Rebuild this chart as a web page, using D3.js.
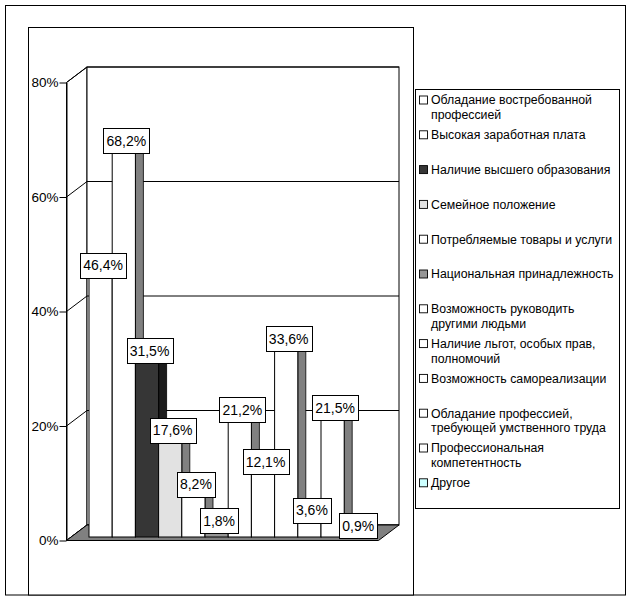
<!DOCTYPE html>
<html><head><meta charset="utf-8">
<script src="https://cdn.jsdelivr.net/npm/d3@7/dist/d3.min.js"></script>
<style>body{margin:0;background:#fff}svg{display:block;font-family:"Liberation Sans",Arial,sans-serif}</style>
</head><body>
<svg id="chart" width="631" height="600"></svg>
<script>
const categories = [
  "Обладание востребованной профессией",
  "Высокая заработная плата",
  "Наличие высшего образования",
  "Семейное положение",
  "Потребляемые товары и услуги",
  "Национальная принадлежность",
  "Возможность руководить другими людьми",
  "Наличие льгот, особых прав, полномочий",
  "Возможность самореализации",
  "Обладание профессией, требующей умственного труда",
  "Профессиональная компетентность",
  "Другое"
];
const values = [46.4, 68.2, 31.5, 17.6, 8.2, 1.8, 21.2, 12.1, 33.6, 3.6, 21.5, 0.9];
const yTicks = [0, 20, 40, 60, 80];

const svg = d3.select("#chart");
const locale = d3.formatLocale({decimal: ",", thousands: " ", grouping: [3], currency: ["", ""]});
const fmt = v => locale.format(".1f")(v) + "%";

const fillScale = d3.scaleOrdinal().domain(categories).range([
  "#ffffff", "#ffffff", "#363636", "#e2e2e2", "#ffffff", "#969696",
  "#ffffff", "#ffffff", "#ffffff", "#ffffff", "#ffffff", "#ccffff"]);
const sideScale = d3.scaleOrdinal().domain(categories).range([
  "#808080", "#808080", "#1c1c1c", "#808080", "#808080", "#5a5a5a",
  "#808080", "#808080", "#808080", "#808080", "#808080", "#6a9a9a"]);

// frames
svg.append("rect").attr("x", 5.5).attr("y", 5.5).attr("width", 620).attr("height", 589.5)
  .attr("fill", "#fff").attr("stroke", "#000");
svg.append("rect").attr("x", 28.5).attr("y", 27.5).attr("width", 385).attr("height", 567.5)
  .attr("fill", "#fff").attr("stroke", "#000");

// 3D geometry
const frontX = 66.5, depthX = 20.5, depthY = 15.5;
const y = d3.scaleLinear().domain([0, 80]).range([540.5, 82.5]);
const backY = v => y(v) - depthY;
const floorRightFront = 378.5;
const barShift = 3.5;            // bars sit slightly behind the front edge
const x = d3.scaleBand().domain(categories).range([89, 367.4]).padding(0);
const sdx = 8, sdy = 6;

// left wall
svg.append("polygon")
  .attr("points", [[frontX, y(80)], [frontX + depthX, backY(80)], [frontX + depthX, backY(0)], [frontX, y(0)]].join(" "))
  .attr("fill", "#fff").attr("stroke", "#000");
// back wall
svg.append("rect").attr("x", frontX + depthX).attr("y", backY(80))
  .attr("width", floorRightFront - frontX).attr("height", backY(0) - backY(80))
  .attr("fill", "#fff").attr("stroke", "#000");
// gridlines
yTicks.forEach(t => {
  svg.append("line").attr("x1", frontX).attr("y1", y(t)).attr("x2", frontX + depthX).attr("y2", backY(t)).attr("stroke", "#000");
  svg.append("line").attr("x1", frontX + depthX).attr("y1", backY(t)).attr("x2", floorRightFront + depthX).attr("y2", backY(t)).attr("stroke", "#000");
});
// floor
svg.append("polygon")
  .attr("points", [[frontX, y(0)], [frontX + depthX, backY(0)], [floorRightFront + depthX, backY(0)], [floorRightFront, y(0)]].join(" "))
  .attr("fill", "#808080").attr("stroke", "#000");

// axis
const axis = d3.axisLeft(y).tickValues(yTicks).tickFormat(d => d + "%").tickSize(7).tickSizeOuter(0).tickPadding(1);
const ax = svg.append("g").attr("transform", `translate(${frontX},0)`).call(axis);
ax.selectAll("text").attr("font-size", 13.5).attr("fill", "#000").attr("font-family", '"Liberation Sans",Arial,sans-serif');
ax.selectAll("line,path").attr("stroke", "#000");

// bars
const bars = svg.append("g");
categories.forEach((c, i) => {
  const v = values[i];
  const x0 = x(c), w = x.bandwidth();
  const yt = y(v) - barShift, yb = y(0) - barShift;
  const g = bars.append("g");
  g.append("polygon")
    .attr("points", [[x0 + w, yt], [x0 + w + sdx, yt - sdy], [x0 + w + sdx, yb - sdy], [x0 + w, yb]].join(" "))
    .attr("fill", sideScale(c)).attr("stroke", "#000").attr("stroke-width", 0.8);
  g.append("polygon")
    .attr("points", [[x0, yt], [x0 + sdx, yt - sdy], [x0 + w + sdx, yt - sdy], [x0 + w, yt]].join(" "))
    .attr("fill", fillScale(c)).attr("stroke", "#000").attr("stroke-width", 0.8);
  g.append("rect").attr("x", x0).attr("y", yt).attr("width", w).attr("height", yb - yt)
    .attr("fill", fillScale(c)).attr("stroke", "#000").attr("stroke-width", 1);
});

// data labels
const labels = svg.append("g");
categories.forEach((c, i) => {
  const v = values[i];
  const cx = x(c) + x.bandwidth() / 2 + 2.5;
  const cy = y(v) - barShift - 6;
  const g = labels.append("g");
  const box = g.append("rect").attr("fill", "#fff").attr("stroke", "#000");
  const t = g.append("text").attr("x", cx).attr("y", cy).attr("dy", "0.36em")
    .attr("text-anchor", "middle").attr("font-size", 14).attr("fill", "#000").text(fmt(v));
  const tw = t.node().getComputedTextLength();
  box.attr("x", Math.round(cx - tw / 2 - 3) + 0.5).attr("y", Math.round(cy - 12.5) + 0.5)
    .attr("width", Math.round(tw + 6)).attr("height", 25);
});

// legend
svg.append("rect").attr("x", 415.5).attr("y", 89.5).attr("width", 204).attr("height", 419)
  .attr("fill", "#fff").attr("stroke", "#000");
const lg = svg.append("g");
categories.forEach((c, i) => {
  const cy = 100 + 34.8 * i;
  lg.append("rect").attr("x", 419.5).attr("y", cy - 4).attr("width", 8).attr("height", 8)
    .attr("fill", fillScale(c)).attr("stroke", "#000").attr("stroke-width", 0.9);
  const t = lg.append("text").attr("x", 431).attr("y", cy).attr("dy", "0.36em")
    .attr("font-size", 12.3).attr("fill", "#000");
  const words = c.split(" ");
  let line = [], lineNo = 0;
  let ts = t.append("tspan").attr("x", 431).attr("y", cy).attr("dy", "0.36em");
  words.forEach(wd => {
    line.push(wd);
    ts.text(line.join(" "));
    if (ts.node().getComputedTextLength() > 190 && line.length > 1) {
      line.pop();
      ts.text(line.join(" "));
      line = [wd];
      lineNo++;
      ts = t.append("tspan").attr("x", 431).attr("y", cy + 14.5 * lineNo).attr("dy", "0.36em").text(wd);
    }
  });
});
</script>
</body></html>
